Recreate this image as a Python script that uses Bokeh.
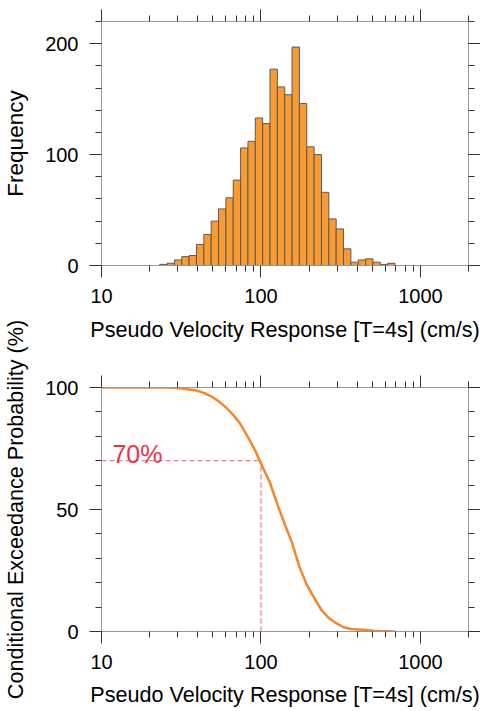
import numpy as np
from bokeh.plotting import figure
from bokeh.layouts import column
from bokeh.models import FixedTicker, PrintfTickFormatter, LogAxis, LinearAxis
from bokeh.core.properties import value
from bokeh.embed import file_html
from bokeh.resources import INLINE

# ---- data ----
# histogram bins: 32 equal-width bins in log10 space
bin_log_start = 1.365
bin_log_width = 0.0461
counts = [1, 2, 5, 8, 9, 19, 28, 40, 51, 61, 77, 106, 112, 133, 128, 177,
          161, 154, 197, 146, 107, 100, 66, 42, 33, 15, 3, 5, 6, 3, 1, 2]
x_major = [10, 100, 1000]
x_minor = [20, 30, 40, 50, 60, 70, 80, 90, 200, 300, 400, 500, 600, 700, 800, 900, 2000]
y1_major = [0, 100, 200]
y1_minor = [0, 20, 40, 60, 80, 100, 120, 140, 160, 180, 200, 220]
y2_major = [0, 50, 100]
y2_minor = [0, 10, 20, 30, 40, 50, 60, 70, 80, 90, 100]
ref_x = 100
ref_p = 70
ref_label = "70%"
x_title = "Pseudo Velocity Response [T=4s] (cm/s)"
y1_title = "Frequency"
y2_title = "Conditional Exceedance Probability (%)"

edges = 10 ** (bin_log_start + bin_log_width * np.arange(len(counts) + 1))
counts = np.array(counts, dtype=float)
exceed = 100.0 * (1.0 - np.concatenate([[0.0], np.cumsum(counts)]) / counts.sum())
curve_x = np.concatenate([[10.0], edges])
curve_y = np.concatenate([[100.0], exceed])

FONT = "Liberation Sans"
BAR = "#F89B33"
LINE = "#F5862B"
RED = "#E8344E"


def style(p):
    p.xgrid.visible = False
    p.ygrid.visible = False
    p.outline_line_color = "#999999"
    p.background_fill_color = "white"
    p.border_fill_color = "white"
    for ax in p.xaxis + p.yaxis:
        ax.major_tick_out = 12
        ax.major_tick_in = 0
        ax.minor_tick_out = 6
        ax.minor_tick_in = 0
        ax.axis_line_color = "#999999"
        ax.major_tick_line_color = "#333333"
        ax.minor_tick_line_color = "#333333"
        ax.major_label_text_font = FONT
        ax.major_label_text_font_size = "20px"
        ax.major_label_text_color = "black"
        ax.axis_label_text_font = FONT
        ax.axis_label_text_font_size = "21.6px"
        ax.axis_label_text_font_style = "normal"
        ax.axis_label_text_color = "black"
        ax.major_label_standoff = 11


def add_frame_axes(p, yt, top_label=None):
    xt = FixedTicker(ticks=x_major, minor_ticks=x_minor)
    top = LogAxis(ticker=xt)
    right = LinearAxis(ticker=yt)
    p.add_layout(top, "above")
    p.add_layout(right, "right")
    p.below[0].ticker = xt
    p.left[0].ticker = yt
    p.below[0].formatter = PrintfTickFormatter(format="%d")
    style(p)
    for ax in (top, right):
        ax.major_label_text_color = None
        ax.major_label_standoff = 0
    if top_label:
        top.axis_label = top_label
    return top, right


# ---------- histogram ----------
p1 = figure(width=480, height=310, x_axis_type="log", x_range=(10, 2000), y_range=(0, 220),
            output_backend="svg", toolbar_location=None,
            min_border_left=101, min_border_right=12, min_border_top=21, min_border_bottom=45)
p1.quad(left=edges[:-1], right=edges[1:], top=counts, bottom=0,
        fill_color=BAR, line_color="#5a5a5a", line_width=1)
add_frame_axes(p1, FixedTicker(ticks=y1_major, minor_ticks=y1_minor))
p1.left[0].axis_label = y1_title
p1.left[0].axis_label_text_font_size = "22.5px"
p1.left[0].axis_label_standoff = 14

# ---------- exceedance curve ----------
p2 = figure(width=480, height=401, x_axis_type="log", x_range=(10, 2000), y_range=(0, 100),
            output_backend="svg", toolbar_location=None,
            min_border_left=101, min_border_right=12, min_border_top=77, min_border_bottom=80)
p2.line([10, ref_x], [ref_p, ref_p], line_color=RED, line_width=1, line_dash="5 3", line_alpha=0.8)
p2.line([ref_x, ref_x], [0, ref_p], line_color=RED, line_width=1, line_dash="5 3", line_alpha=0.8)
p2.line(curve_x, curve_y, line_color=LINE, line_width=2.5)
p2.text(x=[11.7], y=[72.7], text=[ref_label], text_color=RED, text_font=value(FONT),
        text_font_size="25px", text_baseline="alphabetic", text_align="left")
# the histogram's x-axis title is carried by this panel's top axis (shared x scale)
top2, _ = add_frame_axes(p2, FixedTicker(ticks=y2_major, minor_ticks=y2_minor), top_label=x_title)
top2.axis_label_standoff = 34
p2.below[0].axis_label = x_title
p2.below[0].axis_label_standoff = 10
p2.left[0].axis_label = y2_title
p2.left[0].axis_label_standoff = 14

layout = column(p1, p2)
open("out.html", "w").write(file_html(layout, INLINE))
